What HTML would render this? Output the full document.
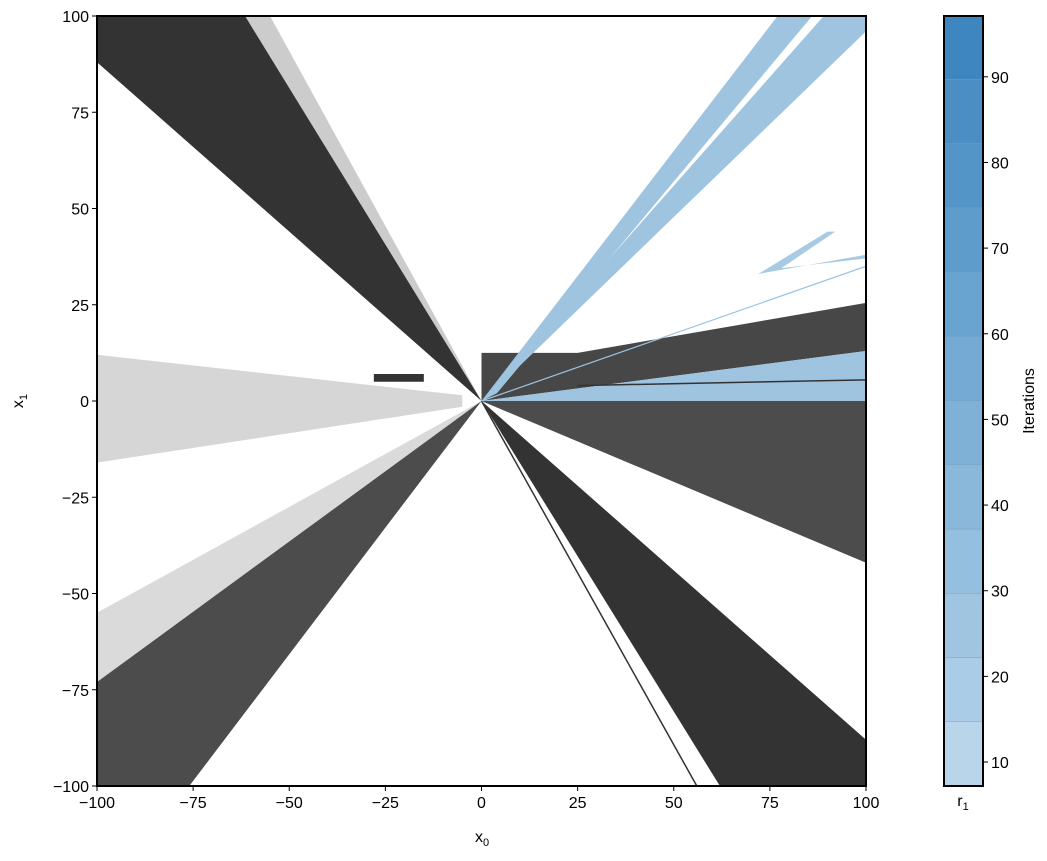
<!DOCTYPE html>
<html><head><meta charset="utf-8"><style>
body{margin:0;background:#fff;}
svg text{font-family:"Liberation Sans",sans-serif;}
</style></head><body>
<svg id="c" width="1047" height="856" xmlns="http://www.w3.org/2000/svg"></svg>
<script>
const xTicks=[-100,-75,-50,-25,0,25,50,75,100];
const yTicks=[-100,-75,-50,-25,0,25,50,75,100];
const cbTicks=[10,20,30,40,50,60,70,80,90];
const cbBands=[7.2,14.7,22.2,29.7,37.2,44.7,52.2,59.7,67.2,74.7,82.2,89.7,97.1];
const cbColors=["#b9d5ea","#aacce6","#9fc5e1","#95bfde","#8ab8db","#7fb1d7","#74aad3","#69a3cf","#5e9ccb","#5395c7","#4a8ec3","#3d86c0"];
const regions=[
 {n:"dark-wedge-top-left",c:"#333",o:1,p:[[0,0],[-100,88],[-100,100],[-61.5,100]]},
 {n:"fringe-top-left",c:"#333",o:0.25,p:[[0,0],[-61.5,100],[-55,100]]},
 {n:"dark-wedge-bottom-right",c:"#333",o:1,p:[[0,0],[62,-100],[100,-100],[100,-88]]},
 {n:"dark-wedge-bottom-left",c:"#333",o:0.88,p:[[0,0],[-100,-73],[-100,-100],[-76,-100]]},
 {n:"fringe-bottom-left",c:"#333",o:0.18,p:[[0,0],[-100,-55],[-100,-73]]},
 {n:"speckle-left",c:"#333",o:0.2,p:[[-100,12],[-5,1.5],[-5,-1.5],[-100,-16]]},
 {n:"dark-band-left",c:"#333",o:1,p:[[-28,7],[-15,7],[-15,5],[-28,5]]},
 {n:"dark-upper-right",c:"#333",o:0.9,p:[[0,0],[0,12.5],[25,12.5],[100,25.5],[100,13]]},
 {n:"blue-wedge-right",c:"#9ec4e0",o:1,p:[[0,0],[100,13],[100,0]]},
 {n:"dark-lower-right",c:"#333",o:0.88,p:[[0,0],[100,0],[100,-42]]},
 {n:"blue-wedge-top-1",c:"#9ec4e0",o:1,p:[[0,0],[77,100],[86,100],[4,2]]},
 {n:"blue-wedge-top-2",c:"#9ec4e0",o:1,p:[[1,0.5],[89,100],[100,100],[100,96]]},
 {n:"blue-loop",c:"#9ec4e0",o:0.9,p:[[72,33],[100,38],[100,37],[78,34.5],[92,44],[90,44]]}
];
const lines=[
 {n:"thin-line-bottom",c:"#333",w:1.5,p:[[0,0],[56,-100]]},
 {n:"blue-line-right",c:"#9ec4e0",w:1.2,p:[[0,0],[100,35]]},
 {n:"dark-line-in-blue",c:"#333",w:1.5,p:[[25,4],[100,5.5]]}
];
const L=97,R=866,T=16,B=786;
const X=v=>L+(v+100)/200*(R-L);
const Y=v=>B-(v+100)/200*(B-T);
const cbL=944,cbR=983,cbMin=7.2,cbMax=97.1;
const CY=v=>B-(v-cbMin)/(cbMax-cbMin)*(B-T);
const svg=document.getElementById('c');
const NS="http://www.w3.org/2000/svg";
function mk(t,a,parent){const e=document.createElementNS(NS,t);for(const k in a)e.setAttribute(k,a[k]);(parent||svg).appendChild(e);return e;}
regions.forEach(r=>{
 const e=mk('polygon',{points:r.p.map(q=>X(q[0])+','+Y(q[1])).join(' '),fill:r.c,'fill-opacity':r.o});
 
 
});
lines.forEach(r=>{
 const e=mk('polyline',{points:r.p.map(q=>X(q[0])+','+Y(q[1])).join(' '),stroke:r.c,'stroke-width':r.w,fill:'none'});
 
 
});
const fr=mk('rect',{x:L,y:T,width:R-L,height:B-T,fill:'none',stroke:'#000','stroke-width':2});


xTicks.forEach(v=>{
 mk('line',{x1:X(v),x2:X(v),y1:B,y2:B+5,stroke:'#000'});
 const t=mk('text',{x:X(v),y:B+22,'font-size':16,'text-anchor':'middle'});t.textContent=v<0?'\u2212'+(-v):v;
 
 
});
yTicks.forEach(v=>{
 mk('line',{x1:L-5,x2:L,y1:Y(v),y2:Y(v),stroke:'#000'});
 const t=mk('text',{x:L-8,y:Y(v)+6,'font-size':16,'text-anchor':'end'});t.textContent=v<0?'\u2212'+(-v):v;
 
 
});
let t=mk('text',{x:482,y:842,'font-size':16,'text-anchor':'middle'});t.innerHTML='x<tspan font-size="11" dy="4">0</tspan>';


t=mk('text',{x:0,y:0,'font-size':16,'text-anchor':'middle',transform:'translate(23,401) rotate(-90)'});t.innerHTML='x<tspan font-size="11" dy="4">1</tspan>';


cbColors.forEach((c,i)=>{
 const e=mk('rect',{x:cbL,y:CY(cbBands[i+1]),width:cbR-cbL,height:CY(cbBands[i])-CY(cbBands[i+1]),fill:c,stroke:'#6f9fc4','stroke-width':0.4});
 
 
});
const cf=mk('rect',{x:cbL,y:T,width:cbR-cbL,height:B-T,fill:'none',stroke:'#000','stroke-width':2});


cbTicks.forEach(v=>{
 mk('line',{x1:cbR,x2:cbR+5,y1:CY(v),y2:CY(v),stroke:'#000'});
 const e=mk('text',{x:cbR+8,y:CY(v)+6,'font-size':16});e.textContent=v;
 
 
});
t=mk('text',{x:0,y:0,'font-size':16,'text-anchor':'middle',transform:'translate(1034,401) rotate(-90)'});t.textContent='Iterations';


t=mk('text',{x:963,y:806,'font-size':16,'text-anchor':'middle'});t.innerHTML='r<tspan font-size="11" dy="4">1</tspan>';


</script>
</body></html>
